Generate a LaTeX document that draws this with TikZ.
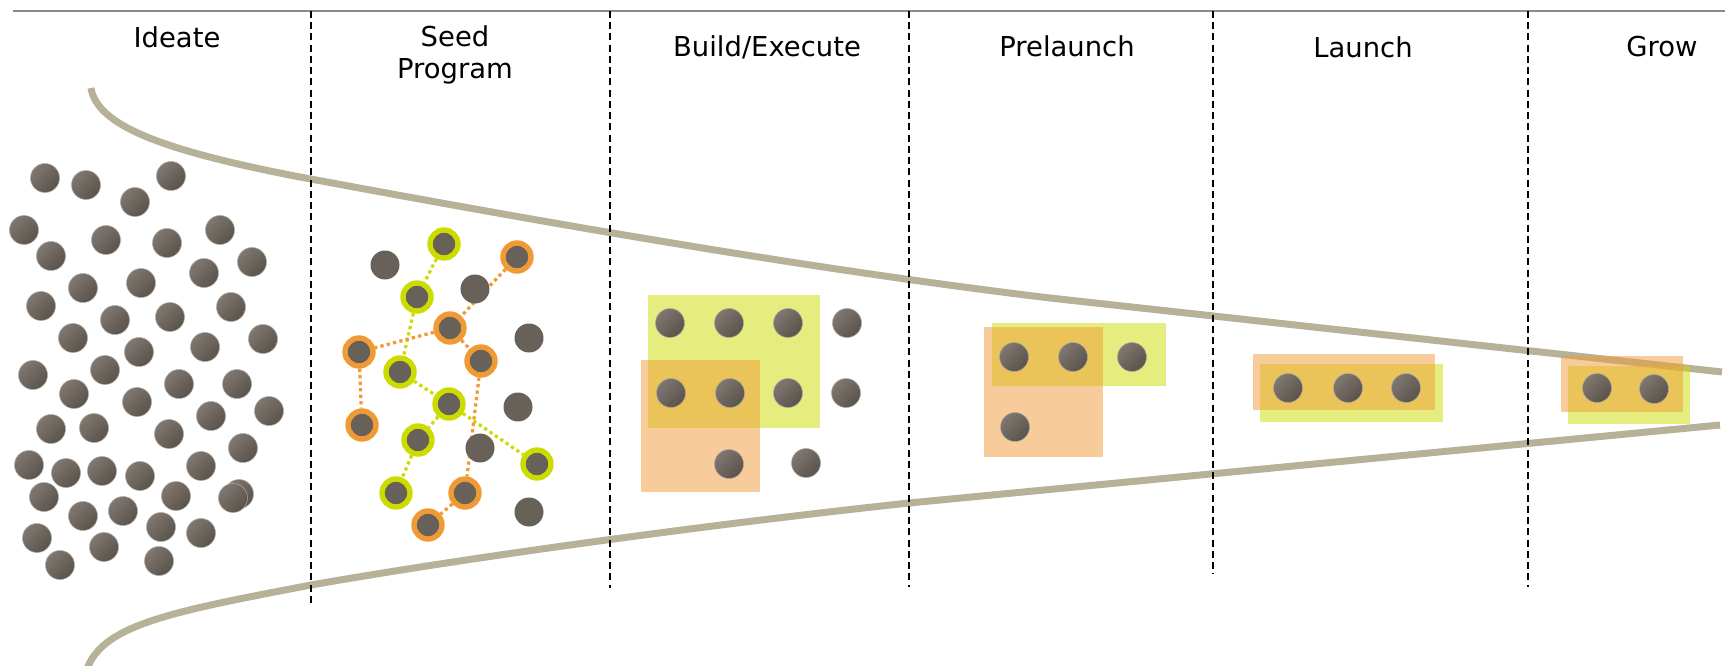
\documentclass[tikz,border=0pt]{standalone}
\usepackage{fontspec}
\setmainfont{DejaVu Sans}
\usetikzlibrary{positioning, backgrounds}

\definecolor{dotlight}{RGB}{128,120,112}
\definecolor{dotdark}{RGB}{90,83,75}
\definecolor{dotedge}{RGB}{172,167,160}
\definecolor{seedgray}{RGB}{103,97,90}
\definecolor{seedgreen}{RGB}{205,220,0}
\definecolor{seedorange}{RGB}{240,154,53}
\definecolor{funnelgray}{RGB}{183,177,152}
\definecolor{rulegray}{RGB}{138,138,138}

\begin{document}
\begin{tikzpicture}[x=0.02cm, y=-0.02cm,
    stage label/.style={font=\fontsize{15.6}{18.2}\selectfont, anchor=base, align=center, inner sep=0pt},
    idea dot/.style={circle, minimum size=0.58cm, inner sep=0pt, draw=dotedge, line width=0.3pt, top color=dotlight, bottom color=dotdark, shading angle=45},
    seed dot/.style={circle, minimum size=0.58cm, inner sep=0pt, fill=seedgray},
    green ring/.style={circle, minimum size=0.56cm, inner sep=0pt, fill=seedgray, draw=seedgreen, line width=0.108cm},
    orange ring/.style={green ring, draw=seedorange},
    green link/.style={seedgreen, line width=0.065cm, dash pattern=on 0.065cm off 0.065cm},
    orange link/.style={green link, seedorange},
    green patch/.style={fill=seedgreen, fill opacity=0.5},
    orange patch/.style={fill=seedorange, fill opacity=0.5},
    stage rule/.style={black, line width=0.042cm, dash pattern=on 0.14cm off 0.085cm},
    funnel line/.style={funnelgray, line width=0.14cm, line cap=butt}]

    \useasboundingbox (0,0) rectangle (1725,666);

    % Header rule and stage titles
    \draw[rulegray, line width=0.026cm] (13,11) -- (1725,11);
    \node[stage label] (ideate) at (177,48) {Ideate};
    \node[stage label] (seed) at (455,78) {Seed\\Program};
    \node[stage label] (build) at (767,56) {Build/Execute};
    \node[stage label] (prelaunch) at (1067,56) {Prelaunch};
    \node[stage label] (launch) at (1363,57) {Launch};
    \node[stage label] (grow) at (1662,56) {Grow};

    % Funnel outline
    \draw[funnel line] (91,88) .. controls (97,125) and (160,150) .. (300,177)
        .. controls (520,218) and (800,268) .. (1050,298) -- (1722,372);
    \draw[funnel line] (86,672) .. controls (100,625) and (170,612) .. (311,585)
        .. controls (500,552) and (750,520) .. (909,503) -- (1720,425);

    % Ideate: loose cloud of ideas
    \foreach \px/\py [count=\n] in {45/178, 86/185, 171/176, 135/202, 24/230, 106/240, 167/243, 220/230,
        51/256, 252/262, 204/273, 83/288, 141/283, 41/306, 231/307, 115/320, 170/317, 73/338,
        139/352, 205/347, 263/339, 33/375, 105/370, 179/384, 237/384, 74/394, 137/402, 211/416,
        269/411, 51/429, 94/428, 169/434, 243/448, 29/465, 66/473, 102/471, 140/476, 201/466,
        44/497, 83/516, 123/511, 176/496, 239/494, 233/498, 161/527, 201/533, 37/538, 104/547,
        60/565, 159/561}
        \node[idea dot] (idea-\n) at (\px,\py) {};

    % Seed Program: linked seeds
    \node[green ring] (g1) at (444,244) {};
    \node[green ring] (g2) at (417,297) {};
    \node[green ring] (g3) at (400,372) {};
    \node[green ring] (g4) at (449,404) {};
    \node[green ring] (g5) at (418,440) {};
    \node[green ring] (g6) at (537,464) {};
    \node[green ring] (g7) at (396,493) {};
    \node[orange ring] (o1) at (517,257) {};
    \node[orange ring] (o2) at (450,328) {};
    \node[orange ring] (o3) at (359,352) {};
    \node[orange ring] (o4) at (481,361) {};
    \node[orange ring] (o5) at (362,425) {};
    \node[orange ring] (o6) at (465,493) {};
    \node[orange ring] (o7) at (428,525) {};

    \draw[green link] (g1) -- (g2);
    \draw[green link] (g2) -- (g3);
    \draw[green link] (g3) -- (g4);
    \draw[green link] (g4) -- (g5);
    \draw[green link] (g4) -- (g6);
    \draw[green link] (g5) -- (g7);
    \draw[orange link] (o1) -- (o2);
    \draw[orange link] (o2) -- (o3);
    \draw[orange link] (o2) -- (o4);
    \draw[orange link] (o3) -- (o5);
    \draw[orange link] (o4) -- (o6);
    \draw[orange link] (o6) -- (o7);

    \node[seed dot] (s1) at (385,265) {};
    \node[seed dot] (s2) at (475,289) {};
    \node[seed dot] (s3) at (529,338) {};
    \node[seed dot] (s4) at (518,407) {};
    \node[seed dot] (s5) at (480,448) {};
    \node[seed dot] (s6) at (529,512) {};

    % Build/Execute
    \fill[green patch] (648,295) rectangle (820,428);
    \fill[orange patch] (641,360) rectangle (760,492);
    \node[idea dot] (b11) at (670,323) {};
    \node[idea dot] (b12) at (729,323) {};
    \node[idea dot] (b13) at (788,323) {};
    \node[idea dot] (b14) at (847,323) {};
    \node[idea dot] (b21) at (671,393) {};
    \node[idea dot] (b22) at (730,393) {};
    \node[idea dot] (b23) at (788,393) {};
    \node[idea dot] (b24) at (846,393) {};
    \node[idea dot] (b31) at (729,464) {};
    \node[idea dot] (b32) at (806,463) {};

    % Prelaunch
    \fill[green patch] (992,323) rectangle (1166,386);
    \fill[orange patch] (984,327) rectangle (1103,457);
    \node[idea dot] (p1) at (1014,357) {};
    \node[idea dot] (p2) at (1073,357) {};
    \node[idea dot] (p3) at (1132,357) {};
    \node[idea dot] (p4) at (1015,427) {};

    % Launch
    \fill[green patch] (1260,364) rectangle (1443,422);
    \fill[orange patch] (1253,354) rectangle (1435,410);
    \node[idea dot] (l1) at (1288,388) {};
    \node[idea dot] (l2) at (1348,388) {};
    \node[idea dot] (l3) at (1406,388) {};

    % Grow
    \fill[green patch] (1568,366) rectangle (1690,424);
    \fill[orange patch] (1561,356) rectangle (1683,412);
    \node[idea dot] (w1) at (1597,388) {};
    \node[idea dot] (w2) at (1654,389) {};

    % Stage separators
    \draw[stage rule] (311,11) -- (311,603);
    \draw[stage rule] (610,11) -- (610,588);
    \draw[stage rule] (909,11) -- (909,587);
    \draw[stage rule] (1213,11) -- (1213,574);
    \draw[stage rule] (1528,11) -- (1528,587);
\end{tikzpicture}
\end{document}
